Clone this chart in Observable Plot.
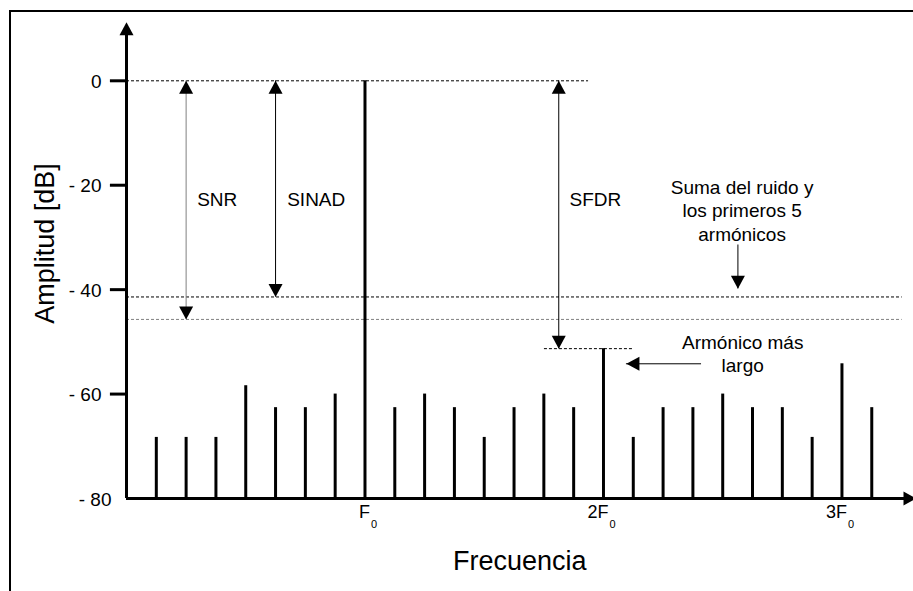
<!DOCTYPE html>
<html><head><meta charset="utf-8">
<script src="https://cdn.jsdelivr.net/npm/d3@7"></script>
<script src="https://cdn.jsdelivr.net/npm/@observablehq/plot@0.6"></script>
<style>
html,body{margin:0;padding:0;background:#fff;overflow:hidden;}
#wrap{position:relative;width:913px;height:591px;overflow:hidden;}
#border{position:absolute;left:9px;top:10px;width:1000px;height:1000px;border-top:2px solid #000;border-left:2px solid #000;pointer-events:none;}
</style></head><body>
<div id="wrap"><div id="chart"></div><div id="border"></div></div>
<script>
// ---- data ----
const bins = d3.range(1, 26);
const amplitudes = [-68.3,-68.3,-68.3,-58.4,-62.6,-62.6,-60,0,-62.6,-60,-62.6,-68.3,-62.6,-60,-62.6,-51.3,-68.3,-62.6,-62.6,-60,-62.6,-62.6,-68.3,-54.2,-62.6];
const yTicks = [0, -20, -40, -60];
const yTickLabels = ["0", "- 20", "- 40", "- 60"];
const yBottom = -80;
const yBottomLabel = "- 80";
const freqTickPos = [8, 16, 24];
const freqTickMain = ["F", "2F", "3F"];
const freqTickSub = ["0", "0", "0"];

const sinadLevel = -41.4;
const snrLevel = -45.7;
const sfdrLevel = d3.max(amplitudes.filter(v => v < 0));

const measureNames = ["SNR", "SINAD", "SFDR"];
const measureX = [2, 5, 14.5];
const measureBottom = [snrLevel, sinadLevel, sfdrLevel];
const measureLabelX = [2.37, 5.39, 14.86];
const measureLabelY = [-22.8, -22.8, -22.8];

const levelLines = [
  {y: 0, x1: 0, x2: 15.5, color: "#000"},
  {y: sinadLevel, x1: 0, x2: 26.02, color: "#000"},
  {y: snrLevel, x1: 0, x2: 26.02, color: "#808080"},
  {y: sfdrLevel, x1: 14.02, x2: 17.0, color: "#000"}
];

const noteSuma = "Suma del ruido y\nlos primeros 5\narmónicos";
const noteSumaPos = [20.65, -24.65];
const noteSumaArrow = {x: 20.51, y1: -31.45, y2: -39.85};
const noteHarm = "Armónico más\nlargo";
const noteHarmPos = [20.67, -52.1];
const noteHarmArrow = {y: -54.2, x1: 19.29, x2: 16.77};

const yTitle = "Amplitud [dB]";
const yTitlePos = [-2.717, -31.16];
const xTitle = "Frecuencia";
const xTitlePos = [13.19, -92.0];
const axisTop = 11.2;
const axisRight = 26.5;
const tickLen = -0.54;

// ---- helpers ----
const W = 7, H = 13;
function head(dir) {
  return {draw(ctx) {
    if (dir === "up") { ctx.moveTo(0,0); ctx.lineTo(W,H); ctx.lineTo(-W,H); }
    else if (dir === "down") { ctx.moveTo(0,0); ctx.lineTo(W,-H); ctx.lineTo(-W,-H); }
    else if (dir === "left") { ctx.moveTo(0,0); ctx.lineTo(H,W); ctx.lineTo(H,-W); }
    else { ctx.moveTo(0,0); ctx.lineTo(-H,W); ctx.lineTo(-H,-W); }
    ctx.closePath();
  }};
}
const bars = bins.map((k, i) => ({k, v: amplitudes[i]}));
const yt = yTicks.map((v, i) => ({v, l: yTickLabels[i]}));
const measures = measureNames.map((n, i) => ({n, x: measureX[i], b: measureBottom[i], lx: measureLabelX[i], ly: measureLabelY[i]}));
const fticks = freqTickPos.map((p, i) => ({p, m: freqTickMain[i], s: freqTickSub[i]}));
const FONT = '"Liberation Sans", Arial, Helvetica, sans-serif';

const chart = Plot.plot({
  width: 913, height: 591,
  marginLeft: 126, marginRight: 0, marginTop: 80.3, marginBottom: 93,
  x: {domain: [0, 26.4], axis: null},
  y: {domain: [yBottom, 0], axis: null},
  style: {fontFamily: FONT, background: "#fff", color: "#000", overflow: "visible"},
  marks: [
    // dashed reference lines
    Plot.ruleY(levelLines, {y: "y", x1: "x1", x2: "x2", stroke: "color", strokeWidth: 1, strokeDasharray: "3,2"}),
    // spectrum bars
    Plot.ruleX(bars, {x: "k", y1: yBottom, y2: "v", stroke: "#000", strokeWidth: 3}),
    // axes
    Plot.ruleX([0], {y1: yBottom, y2: axisTop - 1, stroke: "#000", strokeWidth: 3}),
    Plot.ruleY([yBottom], {x1: 0, x2: axisRight - 0.3, stroke: "#000", strokeWidth: 3}),
    Plot.dot([0], {x: 0, y: axisTop, symbol: head("up"), fill: "#000", stroke: null}),
    Plot.dot([0], {x: axisRight, y: yBottom, symbol: head("right"), fill: "#000", stroke: null}),
    Plot.ruleY(yt, {y: "v", x1: tickLen, x2: 0, stroke: "#000", strokeWidth: 3}),
    Plot.text(yt, {x: 0, y: "v", text: "l", dx: -25, dy: 1, textAnchor: "end", fontSize: 19}),
    Plot.text([yBottomLabel], {x: 0, y: yBottom, dx: -15, dy: 1, textAnchor: "end", fontSize: 19}),
    // x tick labels
    Plot.text(fticks, {x: "p", y: yBottom, text: "m", dx: 5, dy: 13.5, textAnchor: "end", fontSize: 18}),
    Plot.text(fticks, {x: "p", y: yBottom, text: "s", dx: 6, dy: 25.5, textAnchor: "start", fontSize: 11}),
    // measurement arrows
    Plot.ruleX(measures, {x: "x", y1: 0, y2: "b", stroke: d => d.n === "SNR" ? "#808080" : "#000", strokeWidth: 1}),
    Plot.dot(measures, {x: "x", y: 0, symbol: head("up"), fill: "#000", stroke: null}),
    Plot.dot(measures, {x: "x", y: "b", symbol: head("down"), fill: "#000", stroke: null}),
    Plot.text(measures, {x: "lx", y: "ly", text: "n", textAnchor: "start", fontSize: 19}),
    // notes
    Plot.text([noteSuma], {x: noteSumaPos[0], y: noteSumaPos[1], fontSize: 19, lineHeight: 1.237, textAnchor: "middle"}),
    Plot.ruleX([noteSumaArrow], {x: "x", y1: "y1", y2: "y2", stroke: "#000", strokeWidth: 1}),
    Plot.dot([noteSumaArrow], {x: "x", y: "y2", symbol: head("down"), fill: "#000", stroke: null}),
    Plot.text([noteHarm], {x: noteHarmPos[0], y: noteHarmPos[1], fontSize: 19, lineHeight: 1.23, textAnchor: "middle"}),
    Plot.ruleY([noteHarmArrow], {y: "y", x1: "x1", x2: "x2", stroke: "#000", strokeWidth: 1}),
    Plot.dot([noteHarmArrow], {x: "x2", y: "y", symbol: head("left"), fill: "#000", stroke: null}),
    // titles
    Plot.text([yTitle], {x: yTitlePos[0], y: yTitlePos[1], rotate: -90, fontSize: 27}),
    Plot.text([xTitle], {x: xTitlePos[0], y: xTitlePos[1], fontSize: 27})
  ]
});
document.getElementById("chart").appendChild(chart);
</script>
</body></html>
